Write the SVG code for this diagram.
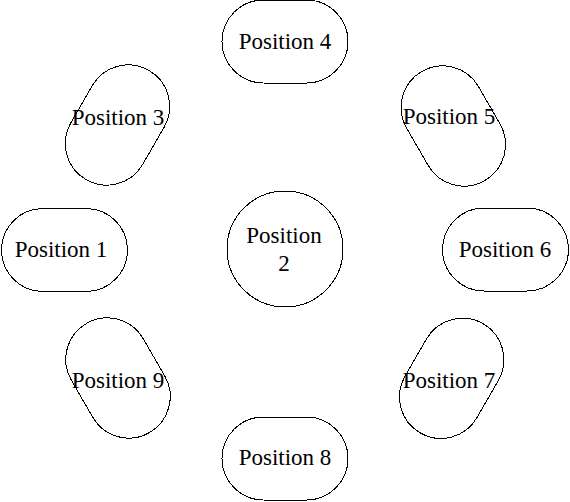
<svg xmlns="http://www.w3.org/2000/svg" width="570" height="502" viewBox="0 0 570 502">
<style>
.s{fill:#fff;stroke:#000;stroke-width:1;shape-rendering:crispEdges}
text{font-family:'Liberation Serif','Times New Roman',Times,serif;font-size:23px;fill:#000;text-anchor:middle}
</style>
<defs>
<rect id="stadium" x="-63" y="-41.5" width="126" height="83" rx="41.5" ry="41.5"/>
</defs>
<rect width="570" height="502" fill="#fff"/>
<g id="connectors"></g>
<g id="node4"><use href="#stadium" class="s" transform="translate(285,41.5)"/><text x="285" y="49">Position 4</text></g>
<g id="node3"><use href="#stadium" class="s" transform="translate(117.5,125) rotate(-60)"/><text x="118" y="125">Position 3</text></g>
<g id="node5"><use href="#stadium" class="s" transform="translate(453.3,126) rotate(60)"/><text x="449" y="124">Position 5</text></g>
<g id="node1"><use href="#stadium" class="s" transform="translate(64.5,250)"/><text x="61" y="257">Position 1</text></g>
<g id="node2"><circle class="s" cx="285" cy="249" r="58"/><text x="284" y="243">Position</text><text x="284" y="271">2</text></g>
<g id="node6"><use href="#stadium" class="s" transform="translate(505.5,249.5)"/><text x="505" y="257">Position 6</text></g>
<g id="node9"><use href="#stadium" class="s" transform="translate(118,378) rotate(60)"/><text x="118" y="388">Position 9</text></g>
<g id="node7"><use href="#stadium" class="s" transform="translate(451.7,378.3) rotate(-60)"/><text x="449" y="388">Position 7</text></g>
<g id="node8"><use href="#stadium" class="s" transform="translate(285,458.5)"/><text x="285" y="465">Position 8</text></g>
</svg>
